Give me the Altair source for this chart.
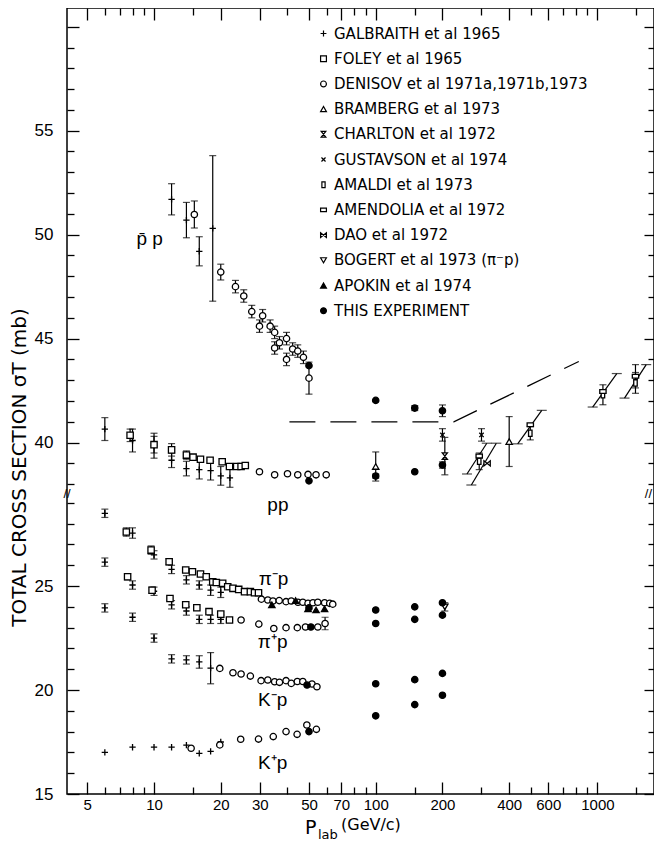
import altair as alt
import pandas as pd

# ------------------------------------------------------------------ legend names
GAL = "GALBRAITH  et al 1965"
FOL = "FOLEY et al 1965"
DEN = "DENISOV et al 1971a,1971b,1973"
BRA = "BRAMBERG et al 1973"
CHA = "CHARLTON et al 1972"
GUS = "GUSTAVSON et al 1974"
AMA = "AMALDI et al 1973"
AME = "AMENDOLIA et al 1972"
DAO = "DAO et al 1972"
BOG = "BOGERT et al 1973 (π⁻p)"
APO = "APOKIN et al 1974"
THS = "THIS EXPERIMENT"
DATASETS = [GAL, FOL, DEN, BRA, CHA, GUS, AMA, AME, DAO, BOG, APO, THS]

# ------------------------------------------------------------------ data (p_lab GeV/c, sigma mb, error mb)
# GALBRAITH: pbar-p, pp, pi-p, pi+p, K-p, K+p
GAL_P = [12, 14, 16, 18.4,
         6, 8, 10, 12, 14, 16, 18, 20, 22,
         6, 8, 10, 12, 14, 16, 18, 20,
         6, 8, 10, 12, 14, 16, 18, 20,
         6, 8, 10, 12, 14, 16, 18,
         6, 8, 10, 12, 14, 16, 18, 20]
GAL_S = [51.7, 50.7, 49.2, 50.3,
         40.65, 40.1, 39.85, 39.15, 38.75, 38.7, 38.65, 38.4, 38.3,
         28.5, 27.55, 26.5, 25.8, 25.3, 25.05, 24.8, 24.7,
         26.15, 25.05, 24.75, 24.1, 23.8, 23.4, 23.4, 23.4,
         23.95, 23.5, 22.5, 21.5, 21.45, 21.35, 21.05,
         17.0, 17.25, 17.25, 17.25, 17.35, 16.95, 17.05, 17.5]
GAL_E = [0.75, 0.85, 0.7, 3.5,
         0.55, 0.55, 0.6, 0.35, 0.35, 0.45, 0.45, 0.45, 0.45,
         0.2, 0.25, 0.2, 0.2, 0.2, 0.2, 0.25, 0.25,
         0.2, 0.2, 0.2, 0.2, 0.2, 0.2, 0.2, 0.2,
         0.2, 0.2, 0.2, 0.2, 0.2, 0.3, 0.75,
         0, 0, 0, 0, 0, 0, 0, 0]

# FOLEY: pp, pi-p, pi+p
FOL_P = [7.8, 10, 12, 14, 15, 16.2, 17.9, 20.3, 21.9, 23.6, 24.7, 25.8,
         7.5, 9.7, 11.7, 13.9, 14.9, 16.2, 17.2, 18.4, 19.1, 20.4, 21.5, 22.7, 24.1, 25.6, 27.2, 28.4, 29.6,
         7.6, 9.8, 11.8, 13.9, 15.6, 17.7, 20, 21.9]
FOL_S = [40.35, 39.9, 39.65, 39.4, 39.3, 39.2, 39.15, 39.08, 38.85, 38.85, 38.85, 38.9,
         27.6, 26.73, 26.17, 25.77, 25.69, 25.58, 25.45, 25.2, 25.17, 25.13, 24.97, 24.89, 24.84, 24.73, 24.73, 24.68, 24.68,
         25.45, 24.8, 24.4, 24.1, 23.96, 23.77, 23.65, 23.37]
FOL_E = [0.3, 0.4, 0.3, 0.2, 0, 0, 0, 0, 0, 0, 0, 0,
         0.2, 0.2, 0.15, 0, 0, 0, 0, 0, 0, 0, 0, 0, 0, 0, 0, 0, 0,
         0.15, 0.15, 0, 0, 0, 0, 0, 0]

# DENISOV: pbar-p, pp, pi-p, pi+p, K-p, K+p
DEN_P = [15.2, 20, 23.3, 25.4, 27.6, 29.9, 30.9, 33.4, 35, 35, 36.8, 39.6, 39.6, 42.2, 44.5, 47.2, 50,
         29.9, 35, 40, 44.5, 49.5, 53.8, 59.8,
         30.5, 32.6, 34.4, 36.7, 39.4, 41.6, 44.6, 46.9, 49.5, 52.1, 54.8, 58.8, 62, 64,
         24.7, 29.7, 34.7, 39.4, 44.3, 48.2, 54.8, 59.1,
         19.8, 22.7, 24.7, 27.2, 30.4, 32.6, 35, 36.8, 39.4, 41.6, 44.3, 46.9, 51.6, 54.3,
         14.7, 19.8, 24.6, 29.6, 34.5, 39.4, 44.2, 48.9, 54]
DEN_S = [50.97, 48.2, 47.5, 47.05, 46.3, 45.6, 46.1, 45.6, 45.3, 44.55, 44.8, 45.0, 44.0, 44.5, 44.4, 44.1, 43.1,
         38.6, 38.45, 38.5, 38.45, 38.47, 38.45, 38.45,
         24.37, 24.33, 24.28, 24.3, 24.25, 24.28, 24.22, 24.22, 24.17, 24.2, 24.22, 24.2, 24.17, 24.13,
         23.37, 23.17, 22.96, 23.0, 23.0, 23.03, 23.03, 23.2,
         21.04, 20.83, 20.77, 20.67, 20.45, 20.48, 20.4, 20.37, 20.45, 20.32, 20.41, 20.41, 20.29, 20.16,
         17.2, 17.36, 17.63, 17.64, 17.76, 18.0, 17.87, 18.32, 18.11]
DEN_E = [0.65, 0.38, 0.3, 0.3, 0.3, 0.3, 0.3, 0.3, 0.3, 0.3, 0.3, 0.3, 0.3, 0.3, 0.3, 0.3, 0.77,
         0, 0, 0, 0, 0, 0, 0,
         0, 0, 0, 0, 0, 0, 0, 0, 0, 0, 0, 0, 0, 0,
         0, 0, 0, 0, 0, 0, 0, 0.3,
         0, 0, 0, 0, 0, 0, 0, 0, 0, 0, 0, 0, 0, 0,
         0, 0, 0, 0, 0, 0, 0, 0, 0]

BRA_P = [100, 400]
BRA_S = [38.85, 40.05]
BRA_E = [0.7, 1.2]

CHA_P = [205]
CHA_S = [39.35]
CHA_E = [0.9]

GUS_P = [200, 300]
GUS_S = [40.37, 40.37]
GUS_E = [0.3, 0.3]

AMA_P = [293, 498, 1059, 1485]
AMA_S = [39.1, 40.45, 42.3, 42.87]
AMA_E = [0.4, 0.32, 0.48, 0.5]

AME_P = [293, 498, 1059, 1485]
AME_S = [39.35, 40.86, 42.46, 43.19]
AME_E = [0, 0, 0, 0.56]

DAO_P = [318]
DAO_S = [39.0]
DAO_E = [0]

BOG_P = [205]
BOG_S = [24.0]
BOG_E = [0.2]

APO_P = [34, 43.5, 49.5, 53.8, 58.8]
APO_S = [24.1, 24.3, 23.9, 23.85, 23.9]
APO_E = [0, 0, 0, 0, 0]

# THIS EXPERIMENT: pbar-p, pp, pi-p, pi+p, K-p, K+p  (50, 100, 150, 200 GeV/c)
THS_P = [50, 100, 150, 200,
         50, 100, 150, 200,
         50, 100, 150, 200,
         51, 100, 150, 200,
         49, 100, 150, 200,
         50, 100, 150, 200]
THS_S = [43.7, 42.03, 41.66, 41.53,
         38.16, 38.39, 38.6, 38.92,
         23.95, 23.85, 24.0, 24.2,
         23.03, 23.2, 23.4, 23.6,
         20.24, 20.3, 20.5, 20.8,
         18.0, 18.76, 19.3, 19.75]
THS_E = [0, 0, 0.12, 0.28,
         0, 0.1, 0, 0.15,
         0, 0, 0, 0,
         0, 0, 0, 0,
         0, 0, 0, 0,
         0, 0, 0, 0]

# ISR slanted (correlated) error bars: end points
SLANT_P1 = [258, 270, 437, 952, 1325]
SLANT_S1 = [38.49, 37.96, 39.94, 41.71, 42.14]
SLANT_P2 = [317, 350, 561, 1223, 1660]
SLANT_S2 = [39.97, 39.97, 41.55, 43.32, 43.75]

# dashed curve
DASH_P = [40.8, 225, 824]
DASH_S = [41.0, 41.0, 43.9]

# reaction labels
LABEL_TEXT = ["p\u0304 p", "pp", "π⁻p", "π⁺p", "K⁻p", "K⁺p"]
LABEL_P = [9.55, 36.2, 34.6, 34.3, 34.3, 34.3]
LABEL_S = [49.8, 28.9, 25.36, 22.32, 19.52, 16.48]

# axis ticks / labels
X_TICKS = [5, 6, 7, 8, 9, 10, 15, 20, 30, 40, 50, 60, 70, 80, 90, 100, 150, 200,
           300, 400, 500, 600, 700, 800, 900, 1000, 1500]
X_LABELS = [5, 10, 20, 30, 50, 70, 100, 200, 400, 600, 1000]
Y_TICKS_LOW = [15, 16, 17, 18, 19, 20, 21, 22, 23, 24, 25, 26, 27, 28, 29]
Y_TICKS_HIGH = [38, 39, 40, 41, 42, 43, 44, 45, 46, 47, 48, 49, 50, 51, 52, 53, 54, 55, 56, 57, 58, 59, 60]
Y_LABELS = [15, 20, 25, 40, 45, 50, 55]

# ------------------------------------------------------------------ styles / layout
SHAPE_RANGE = [
    "M-1,0L1,0M0,-1L0,1",                       # +
    "square",                                    # small square
    "circle",                                    # open circle
    "triangle-up",                               # open triangle
    "M-0.8,-1L0.8,-1L-0.8,1L0.8,1Z",             # hourglass
    "M-0.7,-0.7L0.7,0.7M-0.7,0.7L0.7,-0.7",      # x
    "M-0.55,-1L0.55,-1L0.55,1L-0.55,1Z",         # tall rectangle
    "M-1,-0.6L1,-0.6L1,0.6L-1,0.6Z",             # wide rectangle
    "M-1,-0.8L1,0.8L1,-0.8L-1,0.8Z",             # bow tie
    "triangle-down",                             # open down triangle
    "triangle-up",                               # filled triangle
    "circle",                                    # filled circle
]
FILL_RANGE = ["white"] * 10 + ["black", "black"]
STROKE_RANGE = ["black"] * 12

W, H = 587, 786
X_DOMAIN = [4.05, 1800]
Y_DOMAIN = [15, 52.8]
SHIFT = 8.1          # mb removed above the axis break
BREAK_SIGMA = 34     # data above this value belong to the upper part
BREAK_YP = 29.45     # break position in plot units
FONT = "Liberation Sans"
WIDE_FONT = "DejaVu Sans"
MAJ, MIN = 12, 7

# ------------------------------------------------------------------ table
def rows(name, P, S, E):
    return [dict(ds=name, p=p, s=s, e=e) for p, s, e in zip(P, S, E, strict=True)]

records = (rows(GAL, GAL_P, GAL_S, GAL_E) + rows(FOL, FOL_P, FOL_S, FOL_E) +
           rows(DEN, DEN_P, DEN_S, DEN_E) + rows(BRA, BRA_P, BRA_S, BRA_E) +
           rows(CHA, CHA_P, CHA_S, CHA_E) + rows(GUS, GUS_P, GUS_S, GUS_E) +
           rows(AMA, AMA_P, AMA_S, AMA_E) + rows(AME, AME_P, AME_S, AME_E) +
           rows(DAO, DAO_P, DAO_S, DAO_E) + rows(BOG, BOG_P, BOG_S, BOG_E) +
           rows(APO, APO_P, APO_S, APO_E) + rows(THS, THS_P, THS_S, THS_E))
df = pd.DataFrame(records)
slant_df = pd.DataFrame(dict(p1=SLANT_P1, s1=SLANT_S1, p2=SLANT_P2, s2=SLANT_S2))
dash_df = pd.DataFrame(dict(p=DASH_P, s=DASH_S))
label_df = pd.DataFrame(dict(t=LABEL_TEXT, p=LABEL_P, s=LABEL_S))
break_left = pd.DataFrame(dict(t=["//"], p=[X_DOMAIN[0]], y=[BREAK_YP]))
break_right = pd.DataFrame(dict(t=["//"], p=[X_DOMAIN[1]], y=[BREAK_YP]))


def brk(f):
    return f"(datum.{f} > {BREAK_SIGMA} ? datum.{f} - {SHIFT} : datum.{f})"


XS = alt.Scale(type="log", domain=X_DOMAIN, nice=False, zero=False)
YS = alt.Scale(domain=Y_DOMAIN, nice=False, zero=False)

x_lab_test = f"indexof({X_LABELS}, datum.value) >= 0"
sig_tick = f"round(datum.value > {BREAK_YP} ? datum.value + {SHIFT} : datum.value)"
y_lab_test = f"indexof({Y_LABELS}, {sig_tick}) >= 0"

common_axis = dict(grid=False, domain=False, tickColor="black", tickWidth=1.3,
                   labelFont=FONT, labelColor="black", labelOverlap=False,
                   labelFlush=False, labelBound=False)

x_bottom = alt.Axis(values=X_TICKS, title=None, orient="bottom",
                    labelExpr=f"{x_lab_test} ? '' + datum.value : ''",
                    tickSize={"expr": f"{x_lab_test} ? -{MAJ} : -{MIN}"},
                    labelPadding=MAJ + 3, labelFontSize=15, **common_axis)
x_top = alt.Axis(values=X_TICKS, title=None, orient="top", labels=False,
                 tickSize={"expr": f"{x_lab_test} ? -{MAJ} : -{MIN}"}, **common_axis)
y_values = Y_TICKS_LOW + [round(v - SHIFT, 3) for v in Y_TICKS_HIGH]
y_left = alt.Axis(values=y_values, orient="left",
                  title="TOTAL CROSS SECTION  σT (mb)",
                  titleFont=WIDE_FONT, titleFontSize=20, titleFontWeight="normal",
                  titleColor="black", titleAngle=270, titleAlign="center",
                  titleBaseline="middle", titleX=-48, titleY=459,
                  labelExpr=f"{y_lab_test} ? '' + {sig_tick} : ''",
                  tickSize={"expr": f"{sig_tick} % 5 == 0 ? -{MAJ} : -{MIN}"},
                  labelPadding=MAJ + 14, labelFontSize=17, **common_axis)
y_right = alt.Axis(values=y_values, orient="right", title=None, labels=False,
                   tickSize={"expr": f"{sig_tick} % 5 == 0 ? -10 : -6"}, **common_axis)

legend = alt.Legend(title=None, orient="none", legendX=249, legendY=18,
                    labelFont=WIDE_FONT, labelFontSize=15, labelColor="black",
                    symbolSize=34, symbolStrokeWidth=1.2,
                    rowPadding=9.2, labelOffset=3, padding=0, labelLimit=600)

base = alt.Chart(df).transform_calculate(
    yp=brk("s"), lo=f"{brk('s')} - datum.e", hi=f"{brk('s')} + datum.e")

bars = base.transform_filter("datum.e > 0").mark_rule(color="black", strokeWidth=1.2).encode(
    x=alt.X("p:Q", scale=XS, axis=None),
    y=alt.Y("lo:Q", scale=YS, axis=None), y2="hi:Q")
cap_lo = base.transform_filter("datum.e > 0").mark_tick(
    orient="horizontal", color="black", size=7, thickness=1.2).encode(
    x=alt.X("p:Q", scale=XS, axis=None), y=alt.Y("lo:Q", scale=YS, axis=None))
cap_hi = base.transform_filter("datum.e > 0").mark_tick(
    orient="horizontal", color="black", size=7, thickness=1.2).encode(
    x=alt.X("p:Q", scale=XS, axis=None), y=alt.Y("hi:Q", scale=YS, axis=None))

slant_base = alt.Chart(slant_df).transform_calculate(y1=brk("s1"), y2=brk("s2"))
slants = slant_base.mark_rule(color="black", strokeWidth=1.2).encode(
    x=alt.X("p1:Q", scale=XS, axis=None), y=alt.Y("y1:Q", scale=YS, axis=None),
    x2="p2:Q", y2="y2:Q")
slant_cap1 = slant_base.mark_tick(orient="horizontal", color="black", size=10, thickness=1.2).encode(
    x=alt.X("p1:Q", scale=XS, axis=None), y=alt.Y("y1:Q", scale=YS, axis=None))
slant_cap2 = slant_base.mark_tick(orient="horizontal", color="black", size=10, thickness=1.2).encode(
    x=alt.X("p2:Q", scale=XS, axis=None), y=alt.Y("y2:Q", scale=YS, axis=None))

dash = alt.Chart(dash_df).transform_calculate(yp=brk("s")).mark_line(
    color="black", strokeWidth=1.3, strokeDash=[26, 15]).encode(
    x=alt.X("p:Q", scale=XS, axis=x_top),
    y=alt.Y("yp:Q", scale=YS, axis=y_right))

points = base.mark_point(size=40, strokeWidth=1.3, opacity=1).encode(
    x=alt.X("p:Q", scale=XS, axis=x_bottom),
    y=alt.Y("yp:Q", scale=YS, axis=y_left),
    shape=alt.Shape("ds:N", scale=alt.Scale(domain=DATASETS, range=SHAPE_RANGE), legend=legend),
    fill=alt.Fill("ds:N", scale=alt.Scale(domain=DATASETS, range=FILL_RANGE), legend=legend),
    stroke=alt.Stroke("ds:N", scale=alt.Scale(domain=DATASETS, range=STROKE_RANGE), legend=legend),
)

labels = alt.Chart(label_df).transform_calculate(yp=brk("s")).mark_text(
    font=FONT, fontSize=19, color="black", baseline="middle").encode(
    x=alt.X("p:Q", scale=XS, axis=None), y=alt.Y("yp:Q", scale=YS, axis=None), text="t:N")

breaks_l = alt.Chart(break_left).mark_text(
    font=FONT, fontSize=13, color="black", baseline="middle", align="center").encode(
    x=alt.X("p:Q", scale=XS, axis=None), y=alt.Y("y:Q", scale=YS, axis=None), text="t:N")
breaks_r = alt.Chart(break_right).mark_text(
    font=FONT, fontSize=13, color="black", baseline="middle", align="right", dx=-2).encode(
    x=alt.X("p:Q", scale=XS, axis=None), y=alt.Y("y:Q", scale=YS, axis=None), text="t:N")

title_p = alt.Chart(pd.DataFrame(dict(t=["P"]))).mark_text(
    font=WIDE_FONT, fontSize=19, color="black", align="left").encode(
    x=alt.value(238), y=alt.value(826), text="t:N")
title_lab = alt.Chart(pd.DataFrame(dict(t=["lab"]))).mark_text(
    font=WIDE_FONT, fontSize=13, color="black", align="left").encode(
    x=alt.value(251), y=alt.value(831), text="t:N")
title_unit = alt.Chart(pd.DataFrame(dict(t=["(GeV/c)"]))).mark_text(
    font=WIDE_FONT, fontSize=16, color="black", align="left").encode(
    x=alt.value(274), y=alt.value(822), text="t:N")

chart = alt.layer(bars, cap_lo, cap_hi, slants, slant_cap1, slant_cap2, dash, points,
                  labels, breaks_l, breaks_r, title_p, title_lab, title_unit).resolve_axis(
    x="independent", y="independent").properties(
    width=W, height=H,
    padding={"left": 59, "top": 0, "right": 0, "bottom": 47},
    autosize=alt.AutoSizeParams(type="none"),
).configure_view(stroke="black", strokeWidth=1.5).configure_text(baseline="alphabetic")

chart.save("out.html", embed_options={"renderer": "svg", "actions": False})
